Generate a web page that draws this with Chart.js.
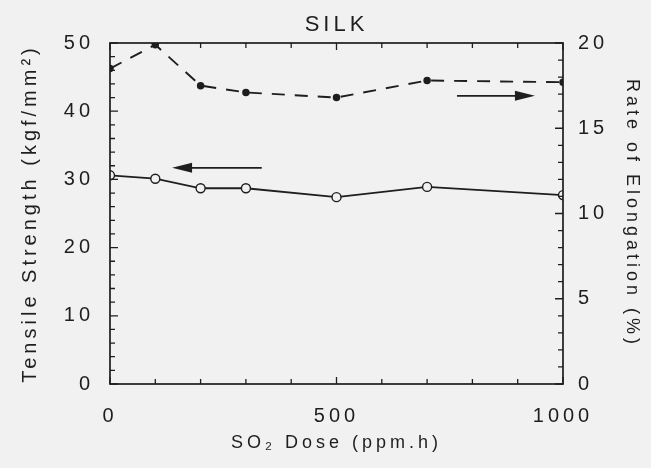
<!DOCTYPE html>
<html lang="en">
<head>
  <meta charset="UTF-8">
  <title>SILK</title>
  <script src="https://cdn.jsdelivr.net/npm/chart.js"></script>
  <style>
    html, body { margin: 0; padding: 0; background: #f1f1f1; }
    #wrap { width: 651px; height: 468px; }
  </style>
</head>
<body>
  <div id="wrap"><canvas id="grafico" width="651" height="468"></canvas></div>

  <script>
    // valores
    const doses = [0, 100, 200, 300, 500, 700, 1000];
    const tensileStrength = [30.6, 30.1, 28.7, 28.7, 27.4, 28.9, 27.7];
    const elongation = [18.5, 19.9, 17.5, 17.1, 16.8, 17.8, 17.7];
    const xTickLabels = [0, 500, 1000];
    const leftTickLabels = [0, 10, 20, 30, 40, 50];
    const rightTickLabels = [0, 5, 10, 15, 20];

    const tinta = '#1e1e1e';
    const fundo = '#f1f1f1';
    const fonte = '"Liberation Sans", Arial, sans-serif';
    const espaco = '4px';

    // fundo, moldura, marcas internas e setas
    const moldura = {
      id: 'moldura',
      beforeUpdate(chart) { chart.ctx.letterSpacing = espaco; },
      beforeDraw(chart) {
        const ctx = chart.ctx;
        ctx.letterSpacing = espaco;
        ctx.save();
        ctx.fillStyle = fundo;
        ctx.fillRect(0, 0, chart.width, chart.height);
        ctx.restore();
      },
      afterDatasetsDraw(chart) {
        const { ctx, chartArea: a, scales } = chart;
        ctx.save();
        ctx.strokeStyle = tinta;
        ctx.lineWidth = 1.7;
        ctx.strokeRect(a.left, a.top, a.right - a.left, a.bottom - a.top);

        ctx.lineWidth = 1.3;
        ctx.beginPath();
        for (let v = 0; v <= 1000; v += 100) {
          const px = scales.x.getPixelForValue(v);
          const len = v % 500 === 0 ? 7 : 5;
          ctx.moveTo(px, a.bottom); ctx.lineTo(px, a.bottom - len);
          ctx.moveTo(px, a.top); ctx.lineTo(px, a.top + len);
        }
        for (let v = 0; v <= 50; v += 2) {
          const py = scales.y.getPixelForValue(v);
          const len = v % 10 === 0 ? 8 : 5;
          ctx.moveTo(a.left, py); ctx.lineTo(a.left + len, py);
        }
        for (let v = 0; v <= 20; v += 1) {
          const py = scales.y2.getPixelForValue(v);
          const len = v % 5 === 0 ? 8 : 5;
          ctx.moveTo(a.right, py); ctx.lineTo(a.right - len, py);
        }
        ctx.stroke();

        // setas indicando o eixo de cada série
        seta(ctx, scales.x.getPixelForValue(335), scales.x.getPixelForValue(137),
             scales.y.getPixelForValue(31.7));
        seta(ctx, scales.x.getPixelForValue(766), scales.x.getPixelForValue(938),
             scales.y2.getPixelForValue(16.9));
        ctx.restore();
      }
    };

    function seta(ctx, x0, x1, y) {
      const dir = Math.sign(x1 - x0);
      ctx.beginPath();
      ctx.lineWidth = 1.8;
      ctx.moveTo(x0, y);
      ctx.lineTo(x1 - dir * 16, y);
      ctx.stroke();
      ctx.beginPath();
      ctx.moveTo(x1, y);
      ctx.lineTo(x1 - dir * 20, y - 5);
      ctx.lineTo(x1 - dir * 20, y + 5);
      ctx.closePath();
      ctx.fillStyle = tinta;
      ctx.fill();
    }

    const rotulo = v => String(v);

    new Chart(document.getElementById('grafico'), {
      type: 'line',
      data: {
        datasets: [
          {
            label: 'Tensile Strength',
            data: doses.map((d, i) => ({ x: d, y: tensileStrength[i] })),
            yAxisID: 'y',
            borderColor: tinta,
            borderWidth: 1.8,
            pointRadius: 4.5,
            pointBorderWidth: 1.4,
            pointBackgroundColor: fundo,
            pointBorderColor: tinta,
            tension: 0
          },
          {
            label: 'Rate of Elongation',
            data: doses.map((d, i) => ({ x: d, y: elongation[i] })),
            yAxisID: 'y2',
            borderColor: tinta,
            borderWidth: 1.9,
            borderDash: [13, 10],
            pointRadius: 2.8,
            pointBackgroundColor: tinta,
            pointBorderColor: tinta,
            tension: 0
          }
        ]
      },
      options: {
        responsive: false,
        animation: false,
        layout: { padding: 0 },
        plugins: {
          legend: { display: false },
          tooltip: { enabled: false },
          title: {
            display: true,
            text: 'SILK',
            fullSize: false,
            color: tinta,
            font: { family: fonte, size: 22, weight: 'normal' },
            padding: { top: 12, bottom: 4.6 }
          }
        },
        scales: {
          x: {
            type: 'linear',
            min: 0,
            max: 1000,
            afterFit: s => { s.height = 84; },
            afterBuildTicks: s => { s.ticks = xTickLabels.map(v => ({ value: v })); },
            grid: { drawOnChartArea: false, drawTicks: false },
            border: { display: false },
            ticks: { color: tinta, padding: 20, callback: rotulo, font: { family: fonte, size: 20 } },
            title: {
              display: true,
              text: 'SO₂ Dose (ppm.h)',
              color: tinta,
              font: { family: fonte, size: 18 },
              padding: { top: 0, bottom: 14 }
            }
          },
          y: {
            position: 'left',
            min: 0,
            max: 50,
            afterFit: s => { s.width = 110; },
            afterBuildTicks: s => { s.ticks = leftTickLabels.map(v => ({ value: v })); },
            grid: { drawOnChartArea: false, drawTicks: false },
            border: { display: false },
            ticks: { color: tinta, padding: 16, callback: rotulo, font: { family: fonte, size: 20 } },
            title: {
              display: true,
              text: 'Tensile Strength (kgf/mm²)',
              color: tinta,
              font: { family: fonte, size: 20 },
              padding: { top: 18, bottom: 0 }
            }
          },
          y2: {
            position: 'right',
            min: 0,
            max: 20,
            afterFit: s => { s.width = 88; },
            afterBuildTicks: s => { s.ticks = rightTickLabels.map(v => ({ value: v })); },
            grid: { drawOnChartArea: false, drawTicks: false },
            border: { display: false },
            ticks: { color: tinta, padding: 15, callback: rotulo, font: { family: fonte, size: 20 } },
            title: {
              display: true,
              text: 'Rate of Elongation (%)',
              color: tinta,
              font: { family: fonte, size: 18 },
              padding: { top: 8, bottom: 0 }
            }
          }
        }
      },
      plugins: [moldura]
    });
  </script>
</body>
</html>
